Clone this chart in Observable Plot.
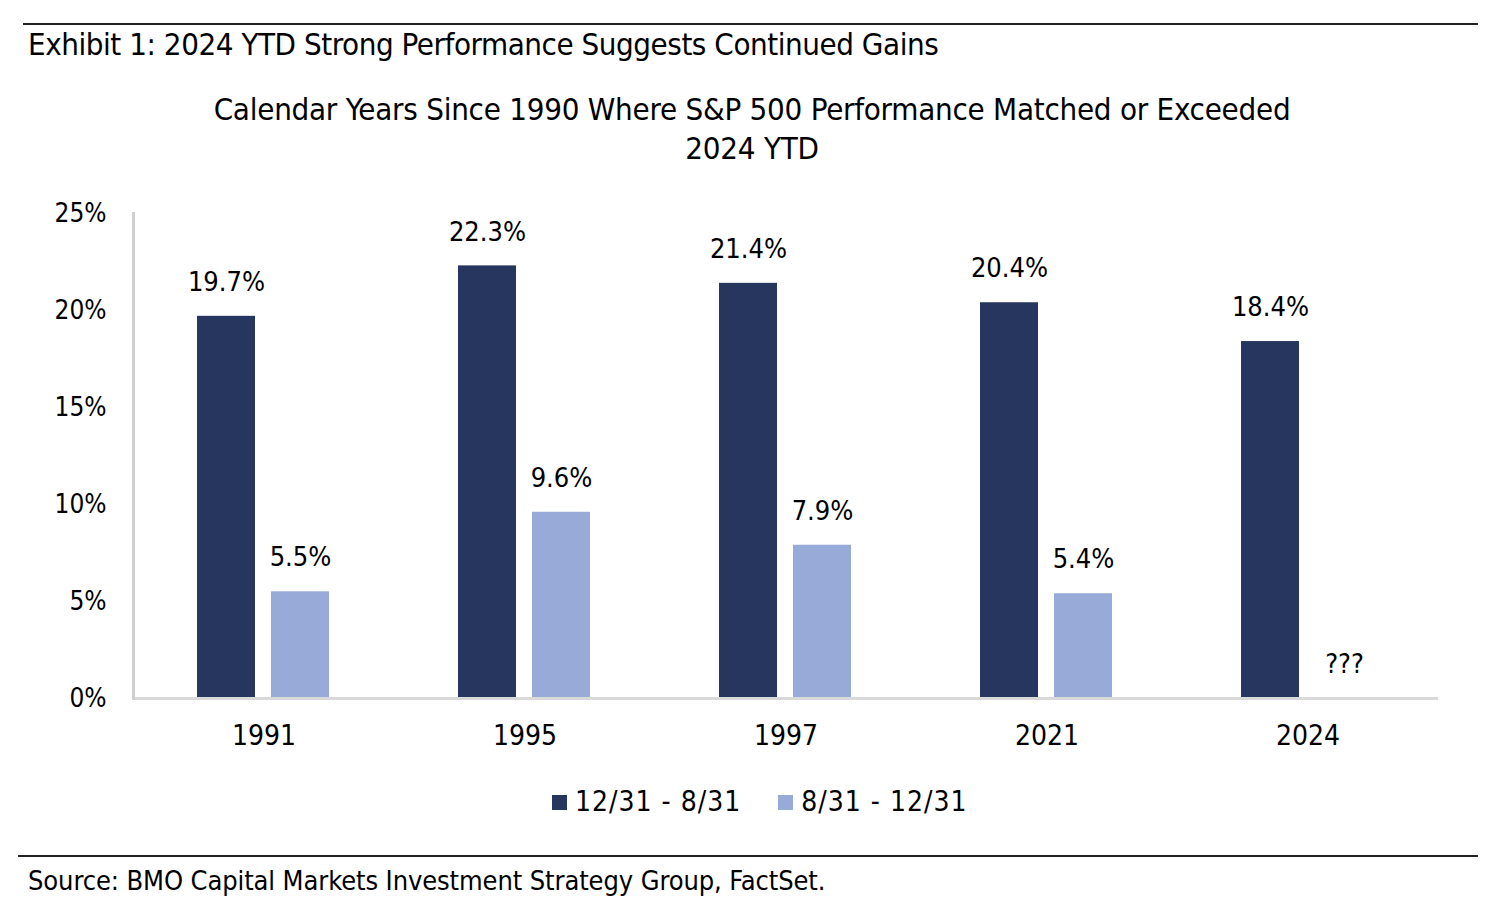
<!DOCTYPE html>
<html>
<head>
<meta charset="utf-8">
<script src="https://cdn.jsdelivr.net/npm/d3@7"></script>
<script src="https://cdn.jsdelivr.net/npm/@observablehq/plot@0.6"></script>
<style>
  html, body { margin: 0; padding: 0; background: #fff; }
  body { width: 1492px; height: 924px; position: relative; overflow: hidden;
         font-family: "Liberation Sans Narrow", "DejaVu Sans Condensed", sans-serif; color: #000; }
  .abs { position: absolute; white-space: nowrap; }
  .rule { position: absolute; height: 2px; background: #222; }
  #title { left: 28px; top: 25px; font-size: 31px; line-height: 38px; letter-spacing: -0.45px; }
  #subtitle { left: 0; width: 1504px; top: 90px; font-size: 31px; line-height: 39px; text-align: center; white-space: normal; letter-spacing: -0.25px; }
  #chart { position: absolute; left: 0; top: 180px; }
  #legend { top: 784px; left: 552px; font-size: 28px; line-height: 36px; display: flex; align-items: center; letter-spacing: 1px; }
  .sw { display: inline-block; width: 15px; height: 15px; margin-right: 8px; }
  #source { left: 28px; top: 863px; font-size: 27px; line-height: 36px; letter-spacing: -0.1px; }
</style>
</head>
<body>
<div class="rule" style="left:23px; width:1455px; top:23px;"></div>
<div id="title" class="abs">Exhibit 1: 2024 YTD Strong Performance Suggests Continued Gains</div>
<div id="subtitle" class="abs">Calendar Years Since 1990 Where S&amp;P 500 Performance Matched or Exceeded<br>2024 YTD</div>
<div id="chart"></div>
<div id="legend" class="abs"></div>
<div class="rule" style="left:18px; width:1460px; top:855px;"></div>
<div id="source" class="abs">Source: BMO Capital Markets Investment Strategy Group, FactSet.</div>
<script>
const years = ["1991", "1995", "1997", "2021", "2024"];
const seriesNames = ["12/31 - 8/31", "8/31 - 12/31"];
const seriesColors = ["#26365F", "#97AAD8"];
const firstPeriod = [19.7, 22.3, 21.4, 20.4, 18.4];
const secondPeriod = [5.5, 9.6, 7.9, 5.4, null];
const missingLabel = "???";
const yTicks = [0, 5, 10, 15, 20, 25];

const rows = [];
years.forEach((yr, i) => {
  rows.push({year: yr, series: seriesNames[0], value: firstPeriod[i]});
  rows.push({year: yr, series: seriesNames[1], value: secondPeriod[i]});
});
rows.forEach(d => { d.label = d.value == null ? missingLabel : d.value.toFixed(1) + "%"; d.pos = d.value == null ? 0 : d.value; });

const font = '"Liberation Sans Narrow", "DejaVu Sans Condensed", sans-serif';

const plot = Plot.plot({
  width: 1492,
  height: 580,
  marginTop: 33,
  marginBottom: 62,
  marginLeft: 133,
  marginRight: 54,
  style: {fontFamily: font, fontSize: "26px", color: "#000", background: "transparent"},
  fx: {domain: years, padding: 0, label: null},
  x: {domain: seriesNames, axis: null, paddingInner: 0.213, paddingOuter: 0.847},
  y: {domain: [0, 25], label: null},
  color: {domain: seriesNames, range: seriesColors},
  marks: [
    Plot.barY(rows.filter(d => d.value != null), {fx: "year", x: "series", y: "value", fill: "series"}),
    Plot.ruleY([0], {stroke: "#d9d9d9", strokeWidth: 3}),
    Plot.frame({anchor: "left", facetAnchor: "left", stroke: "#d0d0d0", strokeWidth: 3}),
    Plot.text(rows, {fx: "year", x: "series", y: "pos", text: "label", dy: -34, fontSize: 27, fill: "#000"}),
    Plot.axisY({ticks: yTicks, tickFormat: d => d + "%", tickSize: 0, tickPadding: 27, fontSize: 26, label: null}),
    Plot.axisFx({anchor: "bottom", tickSize: 0, tickPadding: 27, fontSize: 28, label: null})
  ]
});
document.getElementById("chart").appendChild(plot);

const legend = document.getElementById("legend");
seriesNames.forEach((name, i) => {
  const item = document.createElement("span");
  item.style.display = "inline-flex";
  item.style.alignItems = "center";
  item.style.marginRight = i === 0 ? "37px" : "0";
  const sw = document.createElement("span");
  sw.className = "sw";
  sw.style.background = seriesColors[i];
  item.appendChild(sw);
  item.appendChild(document.createTextNode(name));
  legend.appendChild(item);
});
</script>
</body>
</html>
